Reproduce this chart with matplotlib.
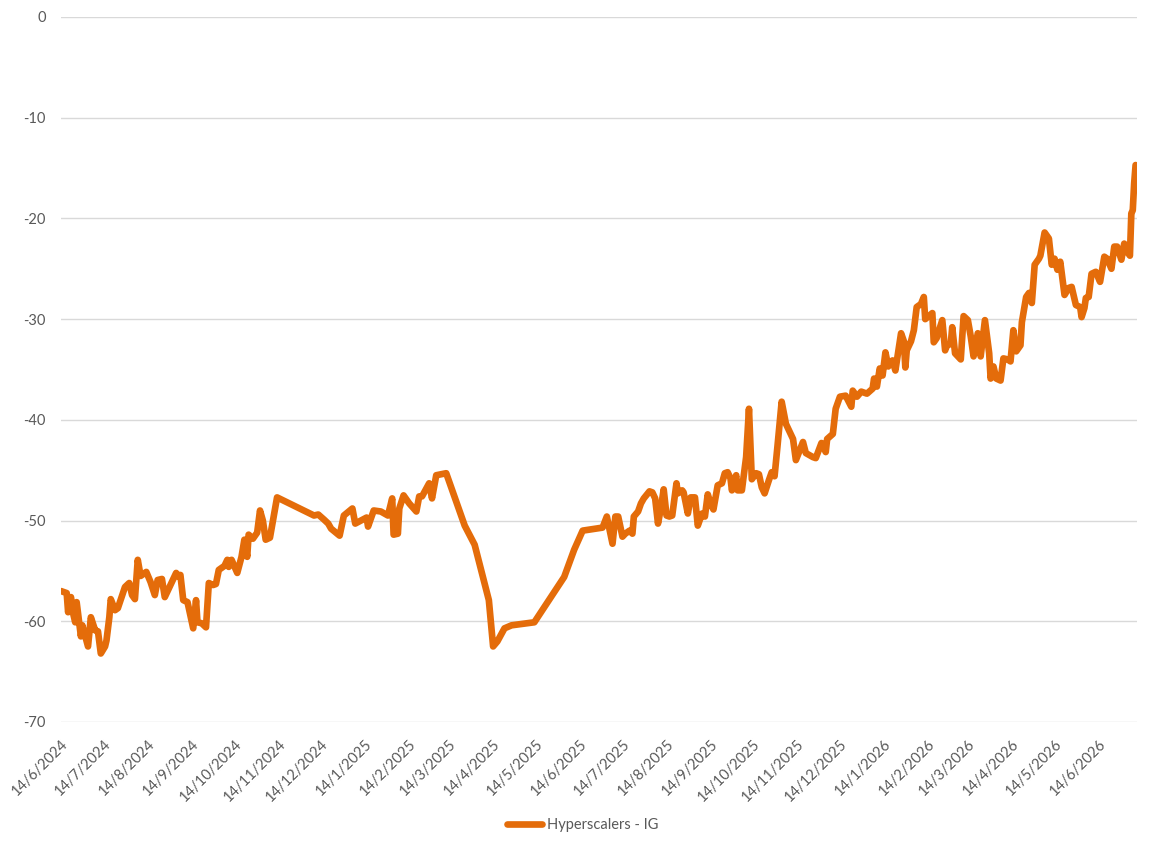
import matplotlib
matplotlib.use("Agg")
import matplotlib.pyplot as plt
import matplotlib.dates as mdates
from matplotlib.ticker import FuncFormatter
from datetime import datetime, timedelta

START = datetime(2024, 6, 14)
END = START + timedelta(days=757)

# day offsets from 14/6/2024 and the spread value on that day
days = [0, 4, 5, 7, 8, 10, 11, 14, 15, 19, 21, 24, 26, 28, 31, 32, 34, 35, 38, 40,
        45, 48, 50, 52, 54, 56, 60, 63, 66, 68, 71, 73, 76, 81, 83, 84, 86, 89, 93, 95,
        96, 99, 102, 104, 107, 109, 111, 115, 117, 118, 120, 124, 127, 129, 131, 132, 135, 138, 140, 142,
        144, 147, 152, 178, 181, 185, 188, 190, 196, 199, 205, 207, 211, 215, 216, 220, 225, 230, 233, 234,
        237, 238, 241, 245, 250, 252, 254, 259, 261, 264, 271, 284, 291, 301, 304, 307, 312, 317, 333, 354,
        361, 367, 381, 384, 388, 390, 392, 395, 397, 400, 402, 403, 406, 408, 410, 414, 416, 418, 420, 422,
        424, 426, 428, 430, 433, 434, 437, 438, 441, 443, 446, 448, 451, 453, 455, 457, 459, 462, 465, 467,
        469, 471, 472, 475, 476, 479, 482, 484, 486, 489, 491, 493, 495, 498, 500, 502, 504, 507, 510, 515,
        517, 522, 524, 529, 531, 535, 538, 539, 543, 545, 548, 552, 556, 557, 560, 563, 567, 571, 572, 574,
        576, 578, 580, 582, 585, 587, 591, 593, 594, 595, 598, 600, 602, 605, 607, 608, 613, 614, 616, 620,
        622, 623, 626, 627, 629, 633, 635, 638, 640, 642, 645, 647, 650, 653, 654, 656, 658, 661, 663, 666,
        668, 670, 672, 675, 676, 679, 681, 683, 685, 688, 689, 692, 695, 697, 699, 701, 703, 706, 709, 711,
        714, 717, 718, 720, 721, 723, 725, 728, 731, 734, 736, 739, 741, 743, 746, 748, 750, 752, 753, 754,
        755, 756]
spread = [-57.0, -57.2, -59.1, -57.6, -58.9, -60.1, -58.1, -61.5, -60.4, -62.5, -59.6, -60.9, -61.0, -63.2, -62.5, -61.9, -59.6, -57.8, -58.9, -58.7,
          -56.6, -56.2, -57.4, -57.8, -53.9, -55.5, -55.1, -56.1, -57.4, -55.9, -55.8, -57.6, -56.7, -55.2, -55.6, -55.4, -57.9, -58.1, -60.7, -57.9,
          -60.1, -60.2, -60.6, -56.2, -56.4, -56.3, -54.9, -54.5, -53.9, -54.6, -53.9, -55.2, -53.6, -51.9, -53.6, -51.4, -51.8, -51.2, -49.0, -50.0,
          -51.9, -51.7, -47.7, -49.5, -49.4, -49.9, -50.3, -50.8, -51.5, -49.5, -48.8, -50.3, -50.0, -49.7, -50.6, -49.0, -49.1, -49.5, -47.8, -51.4,
          -51.3, -48.8, -47.5, -48.3, -49.1, -47.6, -47.6, -46.3, -47.8, -45.5, -45.3, -50.5, -52.4, -57.9, -62.5, -62.0, -60.7, -60.4, -60.1, -55.6,
          -52.9, -51.0, -50.7, -49.6, -52.3, -49.6, -49.6, -51.6, -51.3, -51.0, -51.3, -49.6, -49.1, -48.3, -47.8, -47.1, -47.2, -47.8, -50.3, -48.8,
          -46.9, -49.5, -49.6, -49.5, -46.3, -47.3, -47.0, -47.2, -49.3, -47.7, -47.7, -50.5, -49.3, -49.6, -47.4, -48.3, -48.9, -46.5, -46.3, -45.3,
          -45.2, -45.8, -47.0, -45.5, -47.0, -47.0, -43.7, -38.9, -45.9, -45.3, -45.4, -46.7, -47.3, -46.0, -45.2, -45.6, -42.7, -38.2, -40.4, -41.9,
          -44.0, -42.2, -43.3, -43.7, -43.8, -42.3, -43.2, -41.9, -41.4, -38.9, -37.7, -37.6, -38.7, -37.1, -37.7, -37.2, -37.4, -36.9, -35.9, -36.7,
          -34.9, -35.6, -33.3, -34.7, -34.1, -35.1, -31.4, -32.2, -34.8, -33.1, -32.2, -31.1, -28.8, -28.5, -27.8, -30.0, -29.4, -32.3, -31.9, -30.1,
          -33.1, -32.7, -32.4, -30.8, -33.4, -34.0, -29.7, -30.1, -31.7, -33.7, -31.4, -33.7, -30.1, -33.4, -35.9, -34.7, -35.9, -36.1, -33.9, -34.0,
          -34.2, -31.1, -33.2, -32.6, -30.3, -27.8, -27.4, -28.4, -24.6, -24.0, -23.7, -21.4, -22.0, -24.6, -24.0, -25.1, -24.3, -27.6, -26.9, -26.8,
          -28.6, -28.8, -29.8, -28.9, -27.9, -27.8, -25.5, -25.3, -26.3, -23.8, -24.0, -25.0, -22.8, -22.8, -24.1, -22.5, -23.3, -23.7, -19.5, -19.2,
          -16.5, -14.7]

dates = [START + timedelta(days=d) for d in days]

plt.rcParams['font.family'] = ['Lato', 'DejaVu Sans']
plt.rcParams['axes.unicode_minus'] = False
TEXT = '#595959'
ORANGE = '#E46C0A'

fig = plt.figure(figsize=(11.62, 8.49), dpi=100)
ax = fig.add_axes([0.0525, 0.1496, 0.926, 0.8304])

ax.plot(dates, spread, color=ORANGE, linewidth=4.8, solid_joinstyle='round',
        solid_capstyle='round', label='Hyperscalers - IG')

ax.set_ylim(-70, 0)
ax.set_yticks(range(-70, 1, 10))
ax.set_xlim(START, END)
ax.xaxis.set_major_locator(mdates.MonthLocator(bymonthday=14))
ax.xaxis.set_major_formatter(FuncFormatter(
    lambda x, pos: "{d.day}/{d.month}/{d.year}".format(d=mdates.num2date(x))))

ax.grid(axis='y', color='#D9D9D9', linewidth=1)
ax.set_axisbelow(True)
for s in ax.spines.values():
    s.set_visible(False)
ax.tick_params(axis='both', length=0, colors=TEXT, labelsize=10.5)
ax.tick_params(axis='y', pad=11)
ax.tick_params(axis='x', pad=11)
for lbl in ax.get_xticklabels():
    lbl.set_rotation(45)
    lbl.set_ha('right')
    lbl.set_rotation_mode('anchor')

leg = fig.legend(loc='center', bbox_to_anchor=(0.5013, 0.0283), frameon=False,
                 fontsize=10.5, handlelength=2.4, handletextpad=0.35)
for t in leg.get_texts():
    t.set_color(TEXT)

fig.savefig('out.png', dpi=100)
